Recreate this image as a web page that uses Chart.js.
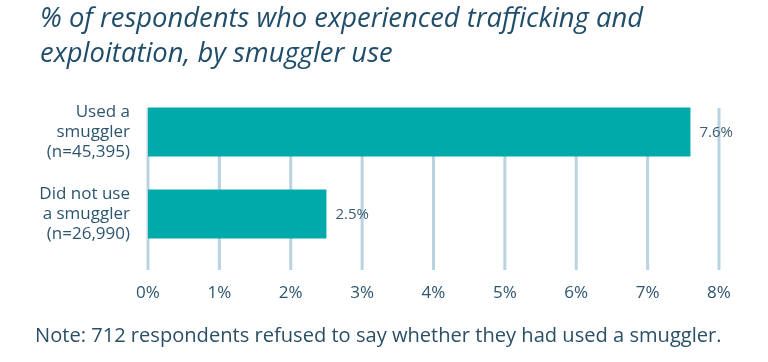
<!DOCTYPE html>
<html><head><meta charset="utf-8">
<script src="https://cdn.jsdelivr.net/npm/chart.js@4.4.1/dist/chart.umd.min.js"></script>
<style>
html,body{margin:0;padding:0;background:#fff;width:768px;height:362px;overflow:hidden;}
#wrap{position:absolute;left:0;top:0;width:768px;height:362px;}
.title{position:absolute;left:40px;top:-1px;font-family:"Open Sans",sans-serif;font-style:italic;font-size:27.4px;line-height:35px;color:#1f4d6a;white-space:nowrap;}
.note{position:absolute;left:35px;top:321px;font-family:"Open Sans",sans-serif;font-size:20.1px;line-height:28px;color:#2a4f66;white-space:nowrap;}
</style></head>
<body>
<div id="wrap"><canvas id="c" width="768" height="362"></canvas></div>
<div class="title">% of respondents who experienced trafficking and<br>exploitation, by smuggler use</div>
<div class="note">Note: 712 respondents refused to say whether they had used a smuggler.</div>
<script>
const categories = [["Used a","smuggler","(n=45,395)"],["Did not use","a smuggler","(n=26,990)"]];
const values = [7.6, 2.5];
const valueLabels = ["7.6%","2.5%"];
const tickValues = [0,1,2,3,4,5,6,7,8];

const FONT = '"Open Sans", sans-serif';
const TEXT = '#2d5570';

const gridPlugin = {
  id:'grid',
  beforeDatasetsDraw(chart){
    const x = chart.scales.x, ca = chart.chartArea, ctx = chart.ctx;
    ctx.save();
    ctx.strokeStyle = '#b9d3e1';
    ctx.lineWidth = 3;
    tickValues.forEach(v=>{
      const px = x.getPixelForValue(v);
      ctx.beginPath();
      ctx.moveTo(px, ca.top + 17);
      ctx.lineTo(px, ca.bottom + 15);
      ctx.stroke();
    });
    ctx.restore();
  }
};
const labelPlugin = {
  id:'vlabels',
  afterDatasetsDraw(chart){
    const ctx = chart.ctx, meta = chart.getDatasetMeta(0);
    ctx.save();
    ctx.font = '15px ' + FONT;
    ctx.fillStyle = '#3d5d70';
    ctx.textBaseline = 'middle';
    meta.data.forEach((bar,i)=>{
      ctx.fillText(valueLabels[i], bar.x + 9, bar.y + 1);
    });
    ctx.restore();
  }
};

new Chart(document.getElementById('c'), {
  type:'bar',
  data:{labels:categories, datasets:[{data:values, backgroundColor:'#00a9aa', borderWidth:0, categoryPercentage:1, barPercentage:0.6}]},
  options:{
    indexAxis:'y', responsive:false, animation:false,
    layout:{padding:{left:0,right:49,top:91,bottom:0}},
    plugins:{legend:{display:false}, tooltip:{enabled:false}},
    scales:{
      x:{min:0,max:8,
        grid:{display:false}, border:{display:false},
        ticks:{stepSize:1, padding:20, color:TEXT, font:{family:FONT,size:17}, callback:v=>v+'%'},
        afterFit(s){s.height = 107;}
      },
      y:{
        grid:{display:false}, border:{display:false},
        ticks:{padding:10, color:TEXT, font:{family:FONT,size:17,lineHeight:1.18}},
        afterFit(s){s.width = 148;}
      }
    }
  },
  plugins:[gridPlugin,labelPlugin]
});
</script>
</body></html>
